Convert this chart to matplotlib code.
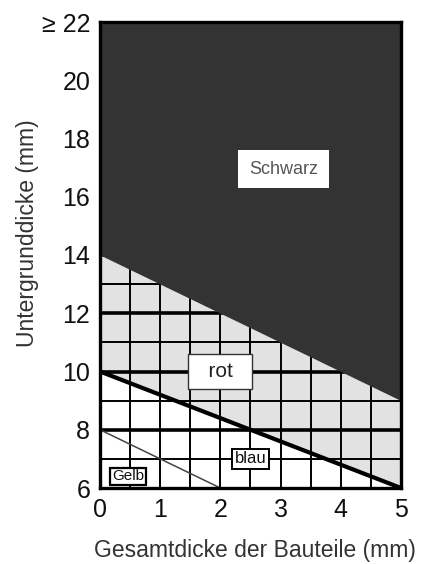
import numpy as np
import matplotlib.pyplot as plt

# data
x_range = [0, 5]
schwarz_lower = [14, 9]     # lower edge of the black area
rot_lower = [10, 6]         # lower edge of the grey (rot) area
gelb_x = [0, 2]
gelb_y = [8, 6]
y_top = 22

xticks = [0, 1, 2, 3, 4, 5]
yticks = [6, 8, 10, 12, 14, 16, 18, 20, 22]
ytick_labels = ["6", "8", "10", "12", "14", "16", "18", "20", "\u2265 22"]
grid_x = np.arange(0.5, 5, 0.5)
grid_y = np.arange(7, 22, 1)

labels = ["Schwarz", "  rot  ", "blau", "Gelb"]
label_x = [3.05, 2.0, 2.5, 0.47]
label_y = [16.95, 10.0, 7.0, 6.4]

plt.rcParams['font.family'] = ['Liberation Sans', 'DejaVu Sans']

fig = plt.figure(figsize=(4.46, 5.64), dpi=100)
ax = fig.add_axes([100 / 446, 1 - 488 / 564, 301 / 446, 466 / 564])

ax.fill_between(x_range, rot_lower, schwarz_lower, color="#e2e2e2", lw=0, zorder=1)

# grid under the black area
for gy in grid_y:
    lw = 2.6 if gy % 2 == 0 else 1.4
    ax.hlines(gy, 0, 5, color="black", lw=lw, zorder=2)
ax.vlines(grid_x, 6, y_top, color="black", lw=1.4, zorder=2)

ax.fill_between(x_range, schwarz_lower, [y_top, y_top], color="#333333", lw=0, zorder=3)
ax.plot(x_range, rot_lower, color="black", lw=3.0, zorder=4, solid_capstyle="butt")
ax.plot(gelb_x, gelb_y, color="#444444", lw=1.1, zorder=4)

# region labels
ax.text(label_x[0], label_y[0], labels[0], ha="center", va="center", fontsize=13,
        color="#555555", zorder=6,
        bbox=dict(boxstyle="square,pad=0.6", fc="white", ec="white", lw=0))
ax.text(label_x[1], label_y[1], labels[1], ha="center", va="center", fontsize=15,
        color="#222222", zorder=6,
        bbox=dict(boxstyle="square,pad=0.4", fc="white", ec="#333333", lw=1.0))
ax.text(label_x[2], label_y[2], labels[2], ha="center", va="center", fontsize=12,
        color="#111111", zorder=6,
        bbox=dict(boxstyle="square,pad=0.15", fc="white", ec="black", lw=1.4))
ax.text(label_x[3], label_y[3], labels[3], ha="center", va="center", fontsize=11,
        color="#111111", zorder=6,
        bbox=dict(boxstyle="square,pad=0.12", fc="white", ec="black", lw=1.6))

ax.set_xlim(0, 5)
ax.set_ylim(6, y_top)
ax.set_xticks(xticks)
ax.set_xticklabels([str(t) for t in xticks])
ax.set_yticks(yticks)
ax.set_yticklabels(ytick_labels)
ax.tick_params(length=0, labelsize=18, pad=7, colors="#111111")

for s in ax.spines.values():
    s.set_linewidth(2.4)
    s.set_color("black")
    s.set_zorder(7)

fig.text(28 / 446, 1 - 233 / 564, "Untergrunddicke (mm)", rotation=90,
         ha="center", va="center", fontsize=16.5, color="#333333")
fig.text(255 / 446, 1 - 551 / 564, "Gesamtdicke der Bauteile (mm)",
         ha="center", va="center", fontsize=16.5, color="#333333")

fig.savefig("out.png", dpi=100)
